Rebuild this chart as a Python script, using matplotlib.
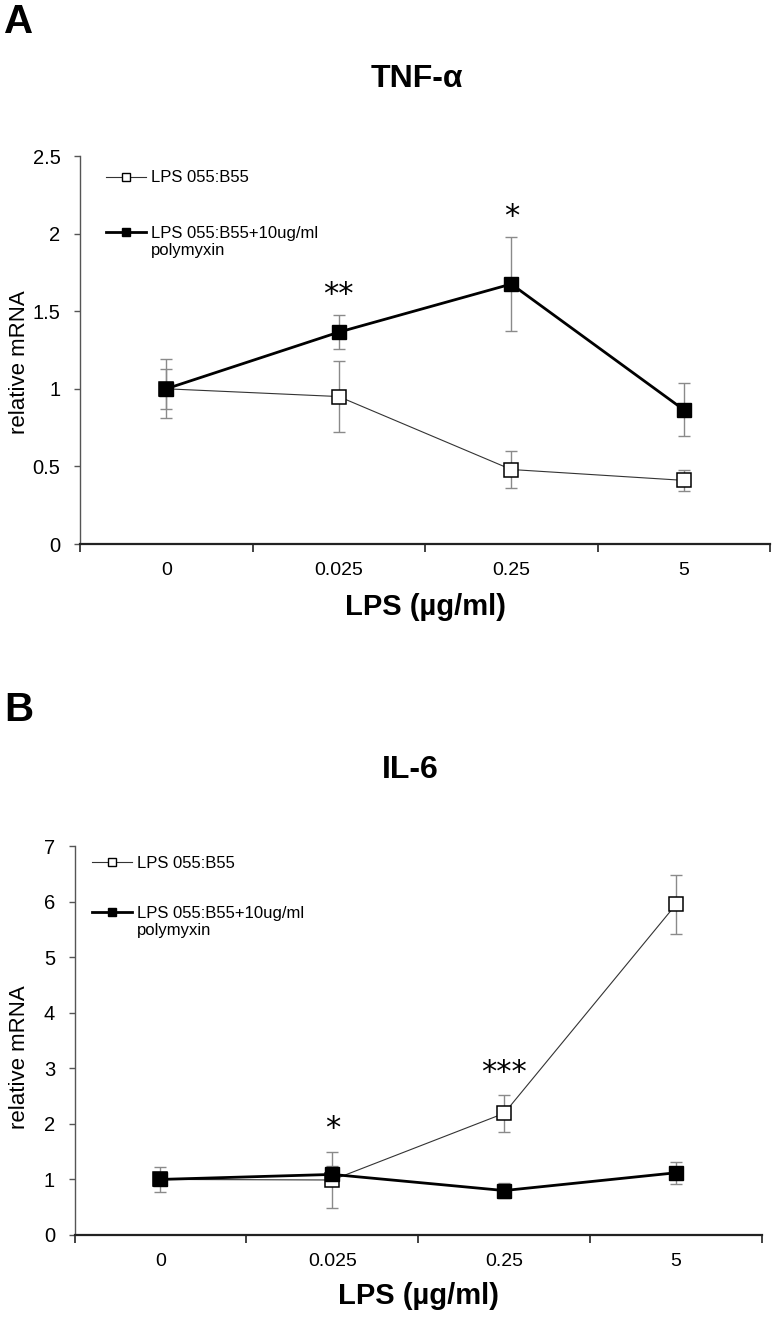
import numpy as np
import matplotlib
matplotlib.use("Agg")
import matplotlib.pyplot as plt
from matplotlib.lines import Line2D

plt.rcParams['font.family'] = ['Liberation Sans', 'DejaVu Sans']

# 数据
doses = ['0', '0.025', '0.25', '5']

tnf_lps = [1.0, 0.95, 0.48, 0.41]
tnf_lps_err = [0.19, 0.23, 0.12, 0.07]
tnf_poly = [1.0, 1.365, 1.675, 0.865]
tnf_poly_err = [0.13, 0.11, 0.30, 0.17]
tnf_stars = ['', '**', '*', '']
tnf_star_y = [0, 1.61, 2.11, 0]

il6_lps = [1.0, 0.99, 2.19, 5.95]
il6_lps_err = [0.23, 0.50, 0.33, 0.53]
il6_poly = [1.0, 1.09, 0.80, 1.12]
il6_poly_err = [0.10, 0.16, 0.14, 0.20]
il6_stars = ['', '*', '***', '']
il6_star_y = [0, 1.91, 2.93, 0]

W, H = 776, 1319


def fx(x):
    return x / W


def fy(y):
    return 1 - y / H


def draw_panel(fig, box, letter, title, lps, lps_err, poly, poly_err,
               stars, star_y, ymax, ystep, title_y, letter_y, ylab_y,
               xlab_y, leg_x, leg_y):
    left, right, top, bottom = box
    ax = fig.add_axes([fx(left), fy(bottom), fx(right) - fx(left), fy(top) - fy(bottom)])
    x = np.arange(len(doses))

    ax.errorbar(x, lps, yerr=lps_err, fmt='none', ecolor='#8a8a8a', elinewidth=1.0,
                capsize=4, capthick=1.0, zorder=2)
    ax.errorbar(x, poly, yerr=poly_err, fmt='none', ecolor='#8a8a8a', elinewidth=1.0,
                capsize=4, capthick=1.0, zorder=2)
    ax.plot(x, lps, color='#333333', lw=0.8, marker='s', markersize=9.5,
            markerfacecolor='white', markeredgecolor='black', markeredgewidth=1.1, zorder=3)
    ax.plot(x, poly, color='black', lw=2.0, marker='s', markersize=9.5,
            markerfacecolor='black', markeredgecolor='black', zorder=4)

    for xi, s, sy in zip(x, stars, star_y):
        if s:
            ax.text(xi, sy, s, ha='center', va='center', fontsize=22,
                    family='DejaVu Sans')

    ax.set_xlim(-0.5, len(doses) - 0.5)
    ax.set_ylim(0, ymax)
    yt = np.arange(0, ymax + 1e-9, ystep)
    ax.set_yticks(yt)
    ax.set_yticklabels(['%g' % v for v in yt])
    ax.set_xticks(np.arange(len(doses) + 1) - 0.5)
    ax.set_xticklabels([])
    ax.set_xticks(x, minor=True)
    ax.set_xticklabels(doses, minor=True)
    ax.tick_params(axis='x', which='minor', length=0, pad=13, labelsize=14)
    ax.tick_params(axis='x', which='major', length=6, width=1.2, color='#222222')
    ax.tick_params(axis='y', length=4, width=1.0, color='#555555', pad=10, labelsize=14.5)

    ax.spines['top'].set_visible(False)
    ax.spines['right'].set_visible(False)
    ax.spines['left'].set_color('#555555')
    ax.spines['left'].set_linewidth(1.0)
    ax.spines['bottom'].set_color('#222222')
    ax.spines['bottom'].set_linewidth(1.6)

    # 图例
    h_lps = Line2D([], [], color='#333333', lw=0.8, marker='s', markersize=6,
                   markerfacecolor='white', markeredgecolor='black', markeredgewidth=1.0)
    h_poly = Line2D([], [], color='black', lw=2.0, marker='s', markersize=6,
                    markerfacecolor='black')
    h_blank = Line2D([], [], color='none')
    leg1 = ax.legend([h_lps], ['LPS 055:B55'], loc='center left', frameon=False,
                     bbox_to_anchor=(fx(leg_x), fy(leg_y[0])), bbox_transform=fig.transFigure,
                     fontsize=12, handlelength=2.4, handletextpad=0.3, borderpad=0,
                     borderaxespad=0)
    ax.add_artist(leg1)
    ax.legend([h_poly, h_blank], ['LPS 055:B55+10ug/ml', 'polymyxin'], loc='upper left',
              frameon=False, bbox_to_anchor=(fx(leg_x), fy(leg_y[1] - 9)),
              bbox_transform=fig.transFigure, fontsize=12, handlelength=2.4,
              handletextpad=0.3, borderpad=0, borderaxespad=0, labelspacing=0.12)

    fig.text(fx((left + right) / 2 - 8), fy(title_y), title, ha='center', va='center',
             fontsize=23, fontweight='bold')
    fig.text(fx(19), fy(letter_y), letter, ha='center', va='center', fontsize=29,
             fontweight='bold')
    fig.text(fx(20), fy(ylab_y), 'relative mRNA', ha='center', va='center',
             rotation=90, fontsize=16)
    fig.text(fx((left + right) / 2), fy(xlab_y), 'LPS (µg/ml)', ha='center', va='center',
             fontsize=21, fontweight='bold')
    return ax


fig = plt.figure(figsize=(W / 100, H / 100), dpi=100)

draw_panel(fig, (80, 770, 156, 544), 'A', 'TNF-α', tnf_lps, tnf_lps_err, tnf_poly,
           tnf_poly_err, tnf_stars, tnf_star_y, 2.5, 0.5, 79, 22, 362, 607,
           106, (178, 235))
draw_panel(fig, (74.5, 762, 846, 1235), 'B', 'IL-6', il6_lps, il6_lps_err, il6_poly,
           il6_poly_err, il6_stars, il6_star_y, 7, 1, 770, 710, 1057, 1296,
           92, (863, 915))

fig.savefig('out.png', dpi=100)
